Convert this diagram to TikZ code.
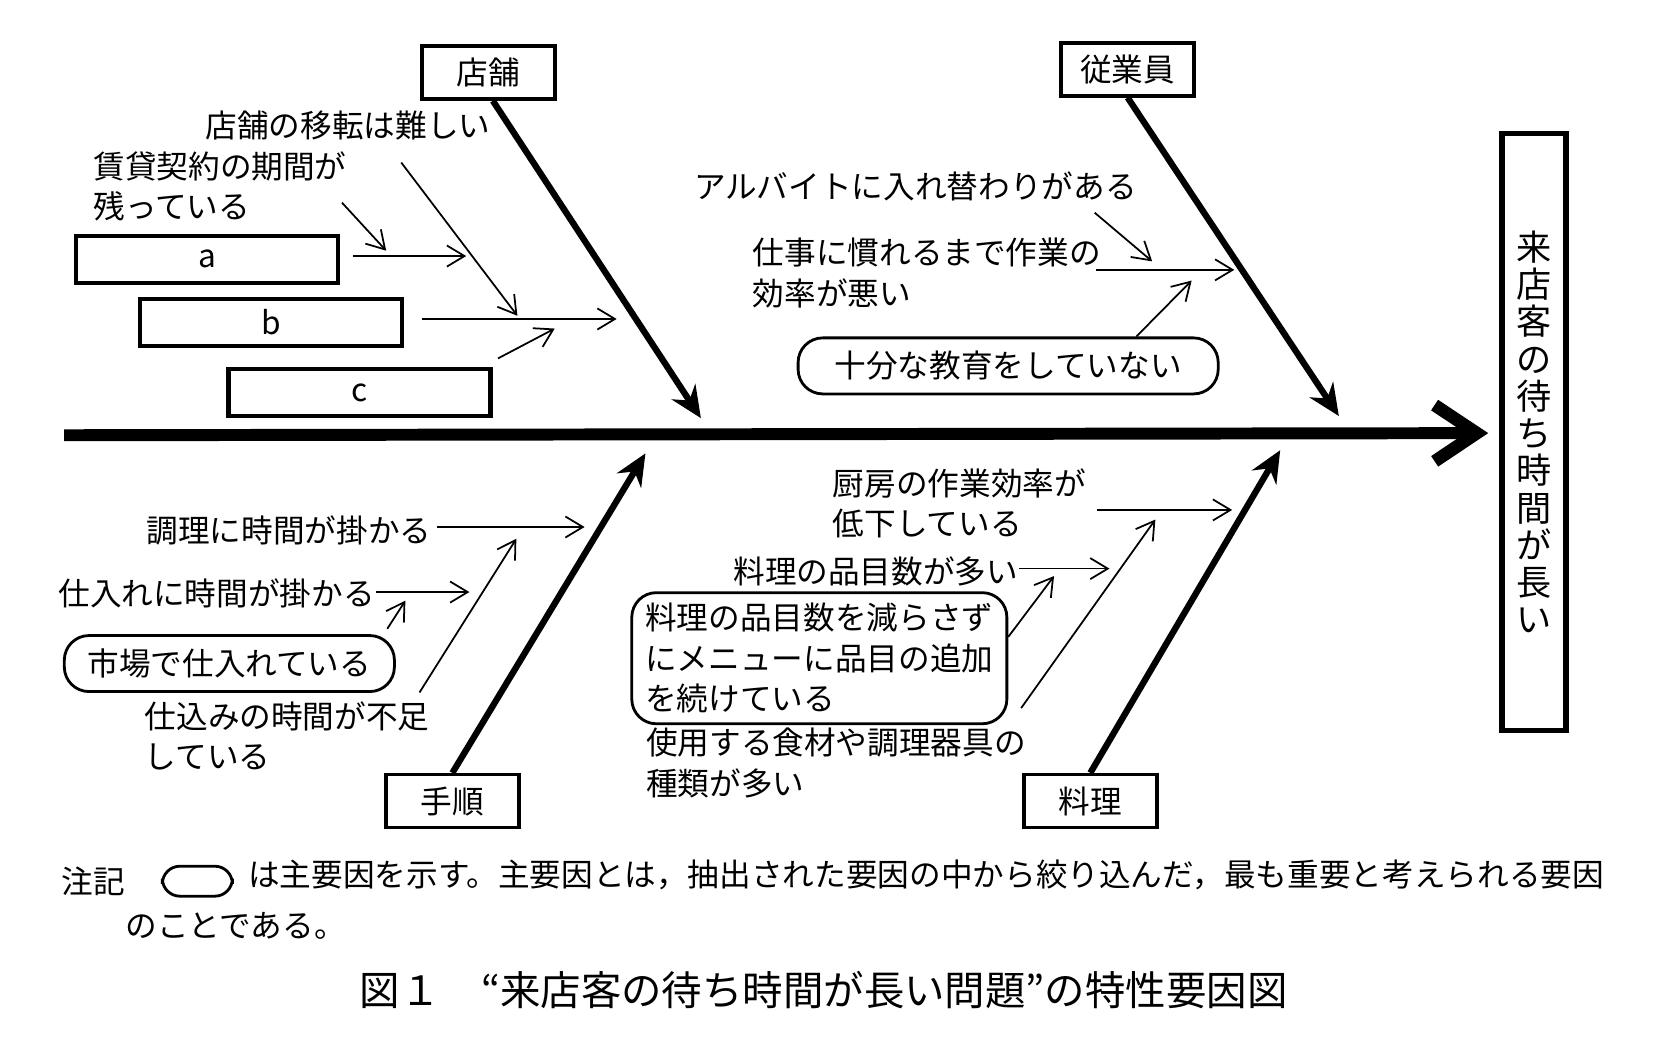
\documentclass[tikz,border=0pt]{standalone}
\usepackage{fontspec}
\setmainfont{Noto Sans CJK JP}
\usetikzlibrary{arrows.meta}
\tikzset{
  lbl/.style = {inner sep=0pt, font=\fontsize{9}{11.5}\selectfont, align=left},
  boneName/.style = {draw, line width=1pt, minimum width=1.33cm, minimum height=0.53cm,
    inner sep=0pt, font=\fontsize{9}{11}\selectfont},% bone label box
  causeBox/.style = {draw, line width=1.2pt, minimum width=2.62cm, minimum height=0.47cm,
    inner sep=0pt, font=\fontsize{9}{11}\selectfont},% empty cause box
  mainCause/.style = {draw, line width=0.8pt, rounded corners=7pt, inner sep=3pt,
    font=\fontsize{9}{11.5}\selectfont, align=left},% main cause
  bone/.style = {line width=1.8pt, -{Stealth[length=9pt,width=8pt,inset=3pt]}},
  twig/.style = {line width=0.5pt, -{Straight Barb[length=5pt,width=6pt]}}
}
\begin{document}
\begin{tikzpicture}[x=0.01067cm, y=-0.01067cm]
\useasboundingbox (0,0) rectangle (1571,992);
% spine and effect
\node [draw, line width=1.6pt, minimum width=0.64cm, minimum height=5.97cm, inner sep=0pt,
  font=\fontsize{10}{10.6}\selectfont, text width=1em, align=center] (effect) at (1438,405)
  {来\\店\\客\\の\\待\\ち\\時\\間\\が\\長\\い};
\coordinate (tail) at (60,408);
\draw [line width=3.4pt, -{Straight Barb[length=12pt,width=16pt,line width=3.6pt]}]
  (tail) -- (1395,406);
% main bones
\node [boneName] (store) at (458,68) {店舗};
\node [boneName] (staff) at (1057,65) {従業員};
\node [boneName] (proc) at (424,751) {手順};
\node [boneName] (dish) at (1022,751) {料理};
\coordinate (storeE) at (657,392);
\coordinate (staffE) at (1255,390);
\coordinate (procE) at (605,425);
\coordinate (dishE) at (1200,422);
\draw [bone] (store.south) ++(4,0) -- (storeE);
\draw [bone] (staff.south) -- (staffE);
\draw [bone] (proc.north) -- (procE);
\draw [bone] (dish.north) -- (dishE);
% store
\node [lbl, anchor=west] (move) at (192,118) {店舗の移転は難しい};
\node [lbl, anchor=west] (lease) at (87,175) {賃貸契約の期間が\\残っている};
\node [causeBox] (a) at (194,243) {a};
\node [causeBox] (b) at (254,302) {b};
\node [causeBox] (c) at (337,368) {c};
\coordinate (aE) at (437,240);
\coordinate (bE) at (578,299);
\coordinate (bM) at (485,296);
\coordinate (aM) at (362,235);
\coordinate (cE) at (520,308);
\draw [twig] (a.east) ++(12,-3) -- (aE);
\draw [twig] (b.east) ++(17,-3) -- (bE);
\draw [twig] (c.north east) ++(5,-8) -- (cE);
\draw [twig] (lease.east) ++(-5,15) -- (aM);
\draw [twig] (move.south) ++(50,20) -- (bM);
% staff
\node [lbl] (arbeit) at (858,175) {アルバイトに入れ替わりがある};
\node [lbl, anchor=west] (slow) at (705,256) {仕事に慣れるまで作業の\\効率が悪い};
\node [mainCause, minimum width=4.2cm, minimum height=0.56cm, align=center] (edu) at (945,343)
  {十分な教育をしていない};
\coordinate (slowM) at (1080,245);
\coordinate (slowE) at (1157,253);
\coordinate (eduE) at (1117,263);
\draw [twig] (arbeit.south east) ++(-40,10) -- (slowM);
\draw [twig] (slow.east) ++(-5,-3) -- (slowE);
\draw [twig] (edu.north east) ++(-78,0) -- (eduE);
% procedure
\node [lbl, anchor=east] (cook) at (405,497) {調理に時間が掛かる};
\node [lbl, anchor=east] (buy) at (352,556) {仕入れに時間が掛かる};
\node [mainCause, minimum width=3.3cm, minimum height=0.56cm, align=center] (market) at (215,622)
  {市場で仕入れている};
\node [lbl, anchor=west] (prep) at (135,690) {仕込みの時間が不足\\している};
\coordinate (cookE) at (548,494);
\coordinate (buyE) at (440,555);
\coordinate (buyM) at (380,563);
\coordinate (prepE) at (484,505);
\draw [twig] (cook.east) ++(5,-3) -- (cookE);
\draw [twig] (buy.east) ++(0,-1) -- (buyE);
\draw [twig] (market.north east) ++(-8,-5) -- (buyM);
\draw [twig] (prep.north east) ++(-10,-8) -- (prepE);
% dishes
\node [lbl, anchor=west] (kitchen) at (780,472) {厨房の作業効率が\\低下している};
\node [lbl, anchor=east] (many) at (955,536) {料理の品目数が多い};
\node [mainCause, minimum width=3.75cm] (menu) at (768,617)
  {料理の品目数を減らさず\\にメニューに品目の追加\\を続けている};
\node [lbl, anchor=west] (tools) at (605,715) {使用する食材や調理器具の\\種類が多い};
\coordinate (kitchenE) at (1155,478);
\coordinate (manyE) at (1040,533);
\coordinate (menuE) at (988,540);
\coordinate (toolsE) at (1083,487);
\draw [twig] (kitchen.east) ++(10,6) -- (kitchenE);
\draw [twig] (many.east) ++(0,-3) -- (manyE);
\draw [twig] (menu.east) ++(0,-20) -- (menuE);
\draw [twig] (tools.north east) ++(-5,-18) -- (toolsE);
% note and caption
\node [lbl, anchor=west] (noteHead) at (57,826) {注記};
\node [draw, line width=0.8pt, rounded corners=5pt, minimum width=0.7cm, minimum height=0.3cm,
  inner sep=0pt] (noteBox) at (185,826) {};
\node [lbl, anchor=west] (noteText) at (232,820)
  {は主要因を示す。主要因とは，抽出された要因の中から絞り込んだ，最も重要と考えられる要因};
\node [lbl, anchor=west] (noteText2) at (117,868) {のことである。};
\node [inner sep=0pt, font=\fontsize{11.5}{14}\selectfont] (caption) at (772,928)
  {図１　“来店客の待ち時間が長い問題”の特性要因図};
\end{tikzpicture}
\end{document}
